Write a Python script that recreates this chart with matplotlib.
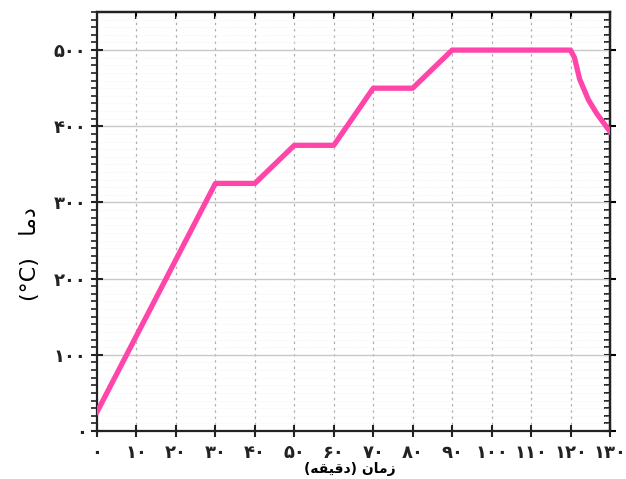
import matplotlib
matplotlib.use("Agg")
import matplotlib.pyplot as plt
from matplotlib.ticker import MultipleLocator

# Data (minutes, temperature °C)
time_min = [0, 30, 40, 50, 60, 70, 80, 90, 120, 121, 122.3, 124.5, 126.6, 130]
temp_c = [25, 325, 325, 375, 375, 450, 450, 500, 500, 490, 462, 435, 417, 393]

x_ticks = [0, 10, 20, 30, 40, 50, 60, 70, 80, 90, 100, 110, 120, 130]
x_tick_labels = ['۰', '۱۰', '۲۰', '۳۰', '۴۰', '۵۰', '۶۰', '۷۰', '۸۰', '۹۰', '۱۰۰', '۱۱۰', '۱۲۰', '۱۳۰']
y_ticks = [0, 100, 200, 300, 400, 500]
y_tick_labels = ['۰', '۱۰۰', '۲۰۰', '۳۰۰', '۴۰۰', '۵۰۰']

# Persian labels, pre-shaped in visual order
x_label = '(ﻪﻘﯿﻗﺩ) ﻥﺎﻣﺯ'   # زمان (دقیقه)
y_label = '(°C)   ﺎﻣﺩ'      # دما (°C)

plt.rcParams['font.family'] = ['DejaVu Sans']

fig = plt.figure(figsize=(6.26, 4.79), dpi=100)
ax = fig.add_axes([97/626, 1-431/479, (610-97)/626, (431-12)/479])

ax.plot(time_min, temp_c, color='#FF45AA', lw=3.8, solid_joinstyle='round', zorder=3)

ax.set_xlim(0, 130)
ax.set_ylim(0, 550)
ax.set_xticks(x_ticks)
ax.set_xticklabels(x_tick_labels, fontsize=13, fontweight='bold')
ax.set_yticks(y_ticks)
ax.set_yticklabels(y_tick_labels, fontsize=13, fontweight='bold')
ax.yaxis.set_minor_locator(MultipleLocator(10))

ax.grid(which='major', axis='y', color='#c8c8c8', lw=1.0, ls='-')
ax.grid(which='minor', axis='y', color='#f0f0f0', lw=0.6, ls=':')
ax.grid(which='major', axis='x', color='#b0b0b0', lw=0.9, ls=(0, (2, 3)))

for s in ax.spines.values():
    s.set_linewidth(1.6)
    s.set_color('#222222')

ax.tick_params(which='major', direction='inout', length=9, width=1.5, pad=3, colors='#222222')
ax.tick_params(which='minor', direction='out', length=4, width=1.2, colors='#222222')
ax.tick_params(axis='x', which='major', pad=5)

secx = ax.secondary_xaxis('top')
secx.set_xticks(x_ticks)
secx.tick_params(direction='in', length=5, width=1.5, labeltop=False)
secy = ax.secondary_yaxis('right')
secy.set_yticks(y_ticks)
secy.yaxis.set_minor_locator(MultipleLocator(10))
secy.tick_params(which='major', direction='inout', length=9, width=1.5, labelright=False)
secy.tick_params(which='minor', direction='in', length=4, width=1.2)
for s in list(secx.spines.values()) + list(secy.spines.values()):
    s.set_linewidth(1.6)

fig.text(350/626, 1-469/479, x_label, ha='center', va='center', fontsize=10, fontweight='bold')
fig.text(30/626, 1-254/479, y_label, ha='center', va='center', fontsize=16, rotation=90)

fig.savefig('out.png', dpi=100)
